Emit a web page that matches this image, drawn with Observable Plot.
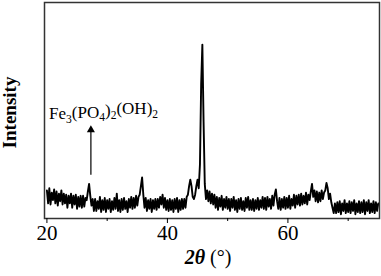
<!DOCTYPE html>
<html><head><meta charset="utf-8">
<script src="https://cdn.jsdelivr.net/npm/d3@7"></script>
<script src="https://cdn.jsdelivr.net/npm/@observablehq/plot@0.6"></script>
<style>body{margin:0;background:#fff} svg text{font-family:'Liberation Serif','Times New Roman',Times,serif}</style>
</head><body><div id="chart"></div>
<script>
// XRD pattern: 2θ from 20.0° in 0.2° steps, one row = 2°
const angleStart = 20;
const angleStep = 0.2;
const intensityRows = [
  [13, 7, 14, 6.5, 12, 8.5, 13.5, 7, 12.5, 6],             // 20
  [11.5, 8, 13, 6.5, 11.5, 7, 11, 5, 10.5, 7],             // 22
  [11.5, 5, 10.5, 6.5, 11, 4.5, 10, 5.5, 10.5, 5],         // 24
  [10.5, 5.5, 9.5, 8.5, 12.5, 16, 10.5, 6, 9, 3.5],        // 26
  [9, 3.5, 8, 4.5, 10, 3, 8.5, 4, 9.5, 3],                 // 28
  [8.5, 4.5, 9, 3, 8, 4, 9.5, 4.5, 11.5, 3.5],             // 30
  [8.5, 3, 9, 4, 9.5, 4.5, 8, 3, 9, 5],                    // 32
  [10, 4.5, 9.5, 5, 10.5, 6, 10, 11, 15, 19],              // 34
  [11, 5, 9.5, 3.5, 8.5, 4.5, 9, 3, 8.5, 4.5],             // 36
  [9, 4, 9, 5, 10, 6.5, 11, 5, 9.5, 4],                    // 38
  [8.5, 3.5, 9, 4, 8.5, 3, 9, 4.5, 9.5, 3],                // 40
  [8.5, 4, 9, 4.5, 9, 5, 10, 11, 15, 18],                  // 42
  [15, 10, 9, 11, 15, 18, 14, 25, 62, 80.5],               // 44
  [45, 16, 9, 13, 8, 12.5, 7, 11.5, 6.5, 11],              // 46
  [5, 10, 4, 9.5, 5.5, 10.5, 4, 9, 5, 10],                 // 48
  [4.5, 9, 3.5, 9, 5, 10, 4, 8.5, 3, 9],                   // 50
  [4.5, 9.5, 4, 8, 3.5, 9.5, 5, 10, 4, 8.5],               // 52
  [4, 9, 3.5, 8.5, 4.5, 9.5, 4, 8.5, 5, 10],               // 54
  [4.5, 9.5, 4, 10, 5.5, 9, 4.5, 10.5, 6, 11],             // 56
  [13.5, 8, 4.5, 9.5, 4, 9, 5, 10, 4.5, 9.5],              // 58
  [5, 10.5, 4.5, 9, 6, 11, 5, 10.5, 6.5, 11],              // 60
  [6, 11.5, 6.5, 10.5, 7, 12, 6.5, 11, 8.5, 12.5],         // 62
  [16, 10, 13, 8, 12.5, 7.5, 12, 8, 13, 9],                // 64
  [12, 13, 16.5, 14, 9, 11.5, 7.5, 5, 2.5, 7],             // 66
  [2.5, 7.5, 3, 8, 2, 7, 3.5, 8.5, 2.5, 7],                // 68
  [3, 8, 2.5, 7.5, 3.5, 8.5, 2, 7, 3, 8],                  // 70
  [2.5, 7.5, 3, 8.5, 2, 7.5, 3.5, 8.5, 2.5, 7],            // 72
  [3, 8, 2.5, 7.5, 3.5, 7]                                 // 74
];
const majorTicks = [20, 40, 60];
const minorTicks = [30, 50, 70];
const xLabel = "2θ (°)";
const yLabel = "Intensity";
const peakLabel = "Fe3(PO4)2(OH)2";
const labelAngle = 29.4, labelIntensity = 46;
const arrowAngle = 27.3, arrowFrom = 20, arrowTo = 41;

const intensity = intensityRows.flat();
const data = intensity.map((v, i) => ({angle: +(angleStart + i * angleStep).toFixed(1), intensity: v}));
const serif = "'Liberation Serif', 'Times New Roman', Times, serif";

const chart = Plot.plot({
  width: 381, height: 276,
  marginLeft: 44, marginRight: 2, marginTop: 2, marginBottom: 58,
  style: {fontFamily: serif, background: "#fff", color: "#000"},
  x: {domain: [19.6, 75.2]},
  y: {domain: [0, 100], axis: null},
  marks: [
    Plot.line(data, {x: "angle", y: "intensity", stroke: "#000", strokeWidth: 1.9}),
    Plot.frame({stroke: "#333", strokeWidth: 1.5}),
    Plot.axisX({ticks: majorTicks, tickSize: 5, tickPadding: 2, fontSize: 21, fontFamily: serif, label: null, tickFormat: d => String(d)}),
    Plot.axisX({ticks: minorTicks, tickSize: 3, tickFormat: () => "", label: null}),
    Plot.ruleX([{a: arrowAngle, y1: arrowFrom, y2: arrowTo}], {x: "a", y1: "y1", y2: "y2", stroke: "#000", strokeWidth: 1.2}),
    Plot.dot([{a: arrowAngle, y: arrowTo}], {x: "a", y: "y", symbol: "triangle", r: 3, fill: "#000", stroke: null}),
    Plot.text([{a: labelAngle, y: labelIntensity, t: peakLabel}], {x: "a", y: "y", text: "t", fontSize: 17, fontFamily: serif, textAnchor: "middle", lineAnchor: "bottom", fill: "#000"}),
    Plot.text([yLabel], {frameAnchor: "left", rotate: -90, textAnchor: "middle", lineAnchor: "middle", dx: -35, dy: 2, fontSize: 19, fontFamily: serif, fontWeight: "bold", fill: "#000"}),
    Plot.text([xLabel], {frameAnchor: "bottom", dx: -4, dy: 45, fontSize: 20, fontFamily: serif, fill: "#000"})
  ]
});
document.getElementById("chart").appendChild(chart);

function rich(el, parts) {
  const t = d3.select(el);
  t.text("");
  let shifted = false;
  for (const p of parts) {
    const s = t.append("tspan").text(p.t);
    if (p.sub && !shifted) { s.attr("dy", "0.3em").attr("font-size", "0.68em"); shifted = true; }
    else if (p.sub) { s.attr("font-size", "0.68em"); }
    else if (!p.sub && shifted) { s.attr("dy", "-0.3em"); shifted = false; }
    if (p.style) s.attr("font-style", p.style);
    if (p.weight) s.attr("font-weight", p.weight);
  }
}
d3.select(chart).selectAll("text").each(function () {
  if (this.textContent === peakLabel) {
    rich(this, [{t: "Fe"}, {t: "3", sub: true}, {t: "(PO"}, {t: "4", sub: true}, {t: ")"}, {t: "2", sub: true}, {t: "(OH)"}, {t: "2", sub: true}]);
  } else if (this.textContent === xLabel) {
    rich(this, [{t: "2θ", style: "italic", weight: "bold"}, {t: " (°)"}]);
  }
});
</script></body></html>
